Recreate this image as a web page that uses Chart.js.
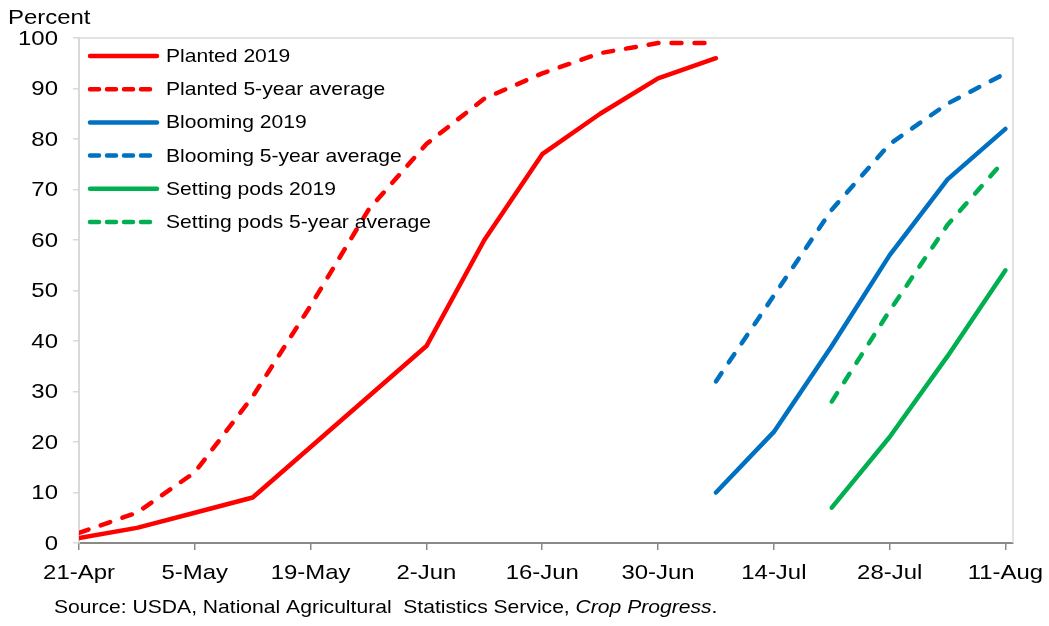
<!DOCTYPE html>
<html>
<head>
<meta charset="utf-8">
<script src="https://cdn.jsdelivr.net/npm/chart.js@4.4.1/dist/chart.umd.min.js"></script>
<style>
  html, body { margin: 0; padding: 0; background: #fff; }
  #wrap { width: 1049px; height: 626px; position: relative; }
</style>
</head>
<body>
<div id="wrap"><canvas id="myChart" width="1049" height="626"></canvas></div>
<script>
// weekly dates, 21-Apr .. 11-Aug
var weeks = ['21-Apr', '28-Apr', '5-May', '12-May', '19-May', '26-May', '2-Jun', '9-Jun', '16-Jun',
             '23-Jun', '30-Jun', '7-Jul', '14-Jul', '21-Jul', '28-Jul', '4-Aug', '11-Aug'];
// labels shown on the x axis (every 2nd week)
var tickLabels = ['21-Apr', '5-May', '19-May', '2-Jun', '16-Jun', '30-Jun', '14-Jul', '28-Jul', '11-Aug'];
var yTicks = [0, 10, 20, 30, 40, 50, 60, 70, 80, 90, 100];

var planted2019 = [1, 3, 6, 9, 19, 29, 39, 60, 77, 85, 92, 96, null, null, null, null, null];
var plantedAvg  = [2, 6, 14, 29, 47, 66, 79, 88, 93, 97, 99, 99, null, null, null, null, null];
var blooming2019 = [null, null, null, null, null, null, null, null, null, null, null, 10, 22, 39, 57, 72, 82];
var bloomingAvg  = [null, null, null, null, null, null, null, null, null, null, null, 32, 49, 66, 79, 87, 93];
var pods2019 = [null, null, null, null, null, null, null, null, null, null, null, null, null, 7, 21, 37, 54];
var podsAvg  = [null, null, null, null, null, null, null, null, null, null, null, null, null, 28, 46, 63, 76];

var RED = '#FF0000', BLUE = '#0070C0', GREEN = '#00B050';
var DASH = [10, 13];
var FONT = '"Liberation Sans", Arial, sans-serif';
var SX = 1.14; // the original text is a bit wider than plain Arial

function toPoints(arr) {
    var pts = [];
    arr.forEach(function (v, i) {
        if (v !== null) pts.push({ x: i, y: v });
    });
    return pts;
}

function mkSet(label, arr, color, dashed) {
    return {
        label: label,
        data: toPoints(arr),
        borderColor: color,
        backgroundColor: color,
        borderWidth: 4.5,
        borderDash: dashed ? DASH : [],
        borderCapStyle: 'round',
        borderJoinStyle: 'round',
        pointRadius: 0,
        tension: 0
    };
}

// draws text widened by SX, returns its drawn width
function wideText(c, txt, x, y, align) {
    var w = c.measureText(txt).width * SX;
    var x0 = x;
    if (align === 'center') x0 = x - w / 2;
    if (align === 'right') x0 = x - w;
    c.save();
    c.translate(x0, y);
    c.scale(SX, 1);
    c.textAlign = 'left';
    c.fillText(txt, 0, 0);
    c.restore();
    return w;
}

// legend, axis labels, percent label, source note and the plot frame
var extras = {
    id: 'extras',
    afterDraw: function (chart) {
        var c = chart.ctx, a = chart.chartArea;
        c.save();
        // top + right frame
        c.strokeStyle = '#D9D9D9';
        c.lineWidth = 1.5;
        c.beginPath();
        c.moveTo(a.left, a.top);
        c.lineTo(a.right, a.top);
        c.lineTo(a.right, a.bottom);
        c.stroke();

        c.fillStyle = '#000';
        c.textBaseline = 'middle';

        // legend
        chart.data.datasets.forEach(function (ds, i) {
            var y = 56 + i * 33.2;
            c.strokeStyle = ds.borderColor;
            c.lineWidth = 4.5;
            c.lineCap = 'round';
            c.setLineDash(ds.borderDash.length ? [9, 8] : []);
            c.beginPath();
            c.moveTo(90, y);
            c.lineTo(157, y);
            c.stroke();
            c.setLineDash([]);
            c.font = '18.5px ' + FONT;
            wideText(c, ds.label, 166, y + 1, 'left');
        });

        // axis labels
        var xs = chart.scales.x, ys = chart.scales.y;
        c.font = '21px ' + FONT;
        tickLabels.forEach(function (l, i) {
            wideText(c, l, xs.getPixelForValue(i * 2), 573, 'center');
        });
        yTicks.forEach(function (v) {
            wideText(c, String(v), 58, ys.getPixelForValue(v) + 1, 'right');
        });

        c.font = '21px ' + FONT;
        wideText(c, 'Percent', 8, 18, 'left');

        // source line, last part in italics
        c.font = '18.5px ' + FONT;
        var x = 54;
        x += wideText(c, 'Source: USDA, National Agricultural  Statistics Service, ', x, 608, 'left');
        c.font = 'italic 18.5px ' + FONT;
        x += wideText(c, 'Crop Progress', x, 608, 'left');
        c.font = '18.5px ' + FONT;
        wideText(c, '.', x, 608, 'left');
        c.restore();
    }
};

const ctx = document.getElementById('myChart');
var xx = new Chart(ctx, {
    type: 'line',
    data: {
        datasets: [
            mkSet('Planted 2019', planted2019, RED, false),
            mkSet('Planted 5-year average', plantedAvg, RED, true),
            mkSet('Blooming 2019', blooming2019, BLUE, false),
            mkSet('Blooming 5-year average', bloomingAvg, BLUE, true),
            mkSet('Setting pods 2019', pods2019, GREEN, false),
            mkSet('Setting pods 5-year average', podsAvg, GREEN, true)
        ]
    },
    options: {
        responsive: false,
        animation: false,
        layout: { padding: { left: 0, top: 38, right: 36, bottom: 0 } },
        plugins: {
            legend: { display: false },
            tooltip: { enabled: false }
        },
        scales: {
            x: {
                type: 'linear',
                min: 0,
                max: 16.13,
                afterBuildTicks: function (scale) {
                    scale.ticks = tickLabels.map(function (l, i) { return { value: i * 2 }; });
                },
                afterFit: function (scale) { scale.height = 83; },
                ticks: {
                    color: 'rgba(0,0,0,0)', // labels drawn by the plugin
                    font: { family: FONT, size: 20 },
                    padding: 8,
                    maxRotation: 0,
                    autoSkip: false,
                    callback: function (v) { return tickLabels[Math.round(v / 2)]; }
                },
                grid: {
                    drawOnChartArea: false,
                    drawTicks: true,
                    tickLength: 7,
                    color: '#898989',
                    lineWidth: 1.5
                },
                border: { color: '#898989', width: 2 }
            },
            y: {
                min: 0,
                max: 100,
                afterFit: function (scale) { scale.width = 79; },
                ticks: {
                    stepSize: 5,
                    color: 'rgba(0,0,0,0)',
                    font: { family: FONT, size: 20 },
                    padding: 14,
                    callback: function (v) { return yTicks.indexOf(v) >= 0 ? String(v) : ''; }
                },
                grid: {
                    drawOnChartArea: false,
                    drawTicks: true,
                    tickLength: 6,
                    color: '#D9D9D9',
                    lineWidth: 1.5
                },
                border: { color: '#D9D9D9', width: 2 }
            }
        }
    },
    plugins: [extras]
});
</script>
</body>
</html>
